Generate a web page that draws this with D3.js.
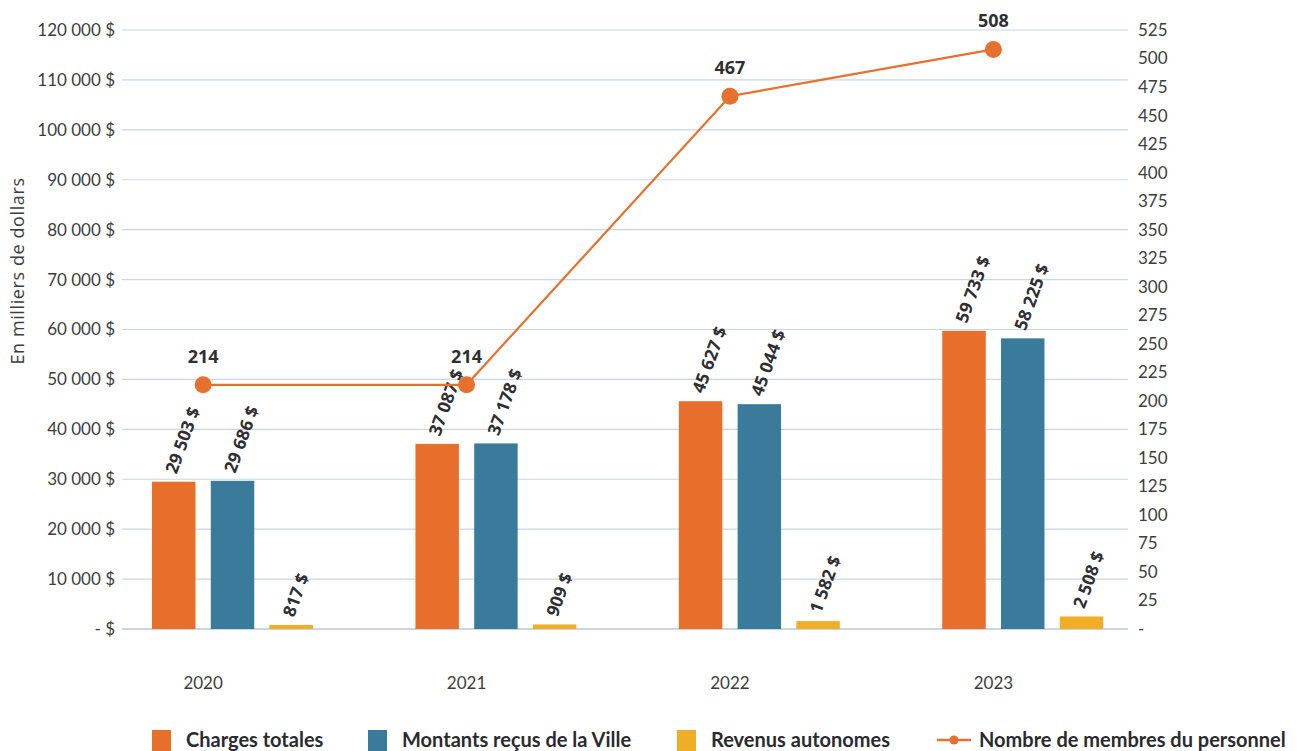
<!DOCTYPE html>
<html lang="fr">
<head>
<meta charset="utf-8">
<script src="https://cdn.jsdelivr.net/npm/d3@7"></script>
<style>
  html, body { margin: 0; padding: 0; background: #fff; }
  svg { display: block; font-family: "Lato", "Open Sans", sans-serif; }
</style>
</head>
<body>
<svg id="chart" width="1305" height="751"></svg>
<script>
// Données (en milliers de dollars) et effectifs
const years = ["2020", "2021", "2022", "2023"];
const chargesTotales = [29503, 37087, 45627, 59733];
const montantsVille = [29686, 37178, 45044, 58225];
const revenusAutonomes = [817, 909, 1582, 2508];
const membresPersonnel = [214, 214, 467, 508];

const leftTicks = [0, 10000, 20000, 30000, 40000, 50000, 60000, 70000, 80000, 90000, 100000, 110000, 120000];
const rightTicks = [0, 25, 50, 75, 100, 125, 150, 175, 200, 225, 250, 275, 300, 325, 350, 375, 400, 425, 450, 475, 500, 525];

const seriesNames = ["Charges totales", "Montants reçus de la Ville", "Revenus autonomes"];
const lineName = "Nombre de membres du personnel";
const colors = ["#e86e2c", "#3a7b9b", "#f0ae27"];
const lineColor = "#e8702e";

const series = [chargesTotales, montantsVille, revenusAutonomes];

const svg = d3.select("#chart");
const plot = { left: 122, right: 1128, top: 30, bottom: 629 };

// Échelles
const x0 = d3.scaleBand().domain(years)
  .range([plot.left, 1192]).paddingInner(0.108).paddingOuter(0.085);
const x1 = d3.scaleBand().domain(["c", "m", "r", "l"])
  .range([0, x0.bandwidth()]).paddingInner(0.26).paddingOuter(0.13);
const y = d3.scaleLinear().domain([0, 120000]).range([plot.bottom, plot.top]);
const y2 = d3.scaleLinear().domain([0, 525]).range([plot.bottom, plot.top]);

const fmt = v => d3.format(",")(v).replace(/,/g, " ");

// Quadrillage
svg.append("g").selectAll("line").data(leftTicks).join("line")
  .attr("x1", plot.left).attr("x2", plot.right)
  .attr("y1", d => y(d)).attr("y2", d => y(d))
  .attr("stroke", d => d === 0 ? "#c9d6e3" : "#c8d7e6")
  .attr("stroke-width", d => d === 0 ? 2 : 1.2);

// Axe gauche
const axisL = svg.append("g").attr("transform", `translate(${plot.left},0)`)
  .call(d3.axisLeft(y).tickValues(leftTicks).tickSize(0).tickPadding(7)
    .tickFormat(d => d === 0 ? "-  $" : fmt(d) + " $"));
axisL.select(".domain").remove();
axisL.selectAll("text").attr("font-size", 17).attr("fill", "#3d3d3d")
  .attr("font-family", "Lato, sans-serif");

// Axe droit
const axisR = svg.append("g").attr("transform", `translate(${plot.right},0)`)
  .call(d3.axisRight(y2).tickValues(rightTicks).tickSize(0).tickPadding(10)
    .tickFormat(d => d === 0 ? "-" : d));
axisR.select(".domain").remove();
axisR.selectAll("text").attr("font-size", 17).attr("fill", "#3d3d3d")
  .attr("font-family", "Lato, sans-serif");

// Titre de l'axe gauche
svg.append("text")
  .attr("transform", "translate(24,271) rotate(-90)")
  .attr("text-anchor", "middle").attr("font-size", 18).attr("fill", "#3d3d3d")
  .attr("font-family", "Open Sans, sans-serif").attr("letter-spacing", 0.6)
  .text("En milliers de dollars");

// Barres
const keys = ["c", "m", "r"];
const groups = svg.append("g").selectAll("g").data(years).join("g")
  .attr("transform", d => `translate(${x0(d)},0)`);

groups.each(function (yr, i) {
  const g = d3.select(this);
  series.forEach((s, k) => {
    const v = s[i];
    const bx = x1(keys[k]);
    g.append("rect")
      .attr("x", bx).attr("width", x1.bandwidth())
      .attr("y", y(v)).attr("height", y(0) - y(v))
      .attr("fill", colors[k]);
    const lx = bx + x1.bandwidth() / 2 - 3;
    const ly = y(v) - 9;
    g.append("text")
      .attr("transform", `translate(${lx},${ly}) rotate(-70)`)
      .attr("font-size", 17.5).attr("font-weight", 700).attr("fill", "#2f2f33")
      .attr("font-family", "Open Sans, sans-serif")
      .attr("dy", "0.35em")
      .text(fmt(v) + " $");
  });
});

// Étiquettes des années
const cx = d => x0(d) + x1.step();
svg.append("g").selectAll("text").data(years).join("text")
  .attr("x", cx).attr("y", 689)
  .attr("text-anchor", "middle").attr("font-size", 17).attr("fill", "#3d3d3d")
  .text(d => d);

// Ligne du personnel
const lineData = years.map((yr, i) => ({ yr, v: membresPersonnel[i] }));
svg.append("path").datum(lineData)
  .attr("fill", "none").attr("stroke", lineColor).attr("stroke-width", 2.2)
  .attr("d", d3.line().x(d => cx(d.yr)).y(d => y2(d.v)));
svg.append("g").selectAll("circle").data(lineData).join("circle")
  .attr("cx", d => cx(d.yr)).attr("cy", d => y2(d.v)).attr("r", 8.5)
  .attr("fill", lineColor);
svg.append("g").selectAll("text").data(lineData).join("text")
  .attr("x", d => cx(d.yr)).attr("y", d => y2(d.v) - 22)
  .attr("text-anchor", "middle").attr("font-size", 18).attr("font-weight", 700)
  .attr("fill", "#2f2f33").attr("font-family", "Open Sans, sans-serif")
  .text(d => d.v);

// Légende
const legend = svg.append("g").attr("font-size", 20).attr("font-weight", 700)
  .attr("fill", "#2b2b2f");
const legendX = [152, 368, 677];
seriesNames.forEach((name, k) => {
  legend.append("rect").attr("x", legendX[k]).attr("y", 730)
    .attr("width", 19).attr("height", 21).attr("fill", colors[k]);
  legend.append("text").attr("x", legendX[k] + 34).attr("y", 747).text(name);
});
legend.append("line").attr("x1", 937).attr("x2", 971).attr("y1", 740).attr("y2", 740)
  .attr("stroke", lineColor).attr("stroke-width", 2.4);
legend.append("circle").attr("cx", 954).attr("cy", 740).attr("r", 4.5).attr("fill", lineColor);
legend.append("text").attr("x", 979).attr("y", 747).text(lineName);
</script>
</body>
</html>
